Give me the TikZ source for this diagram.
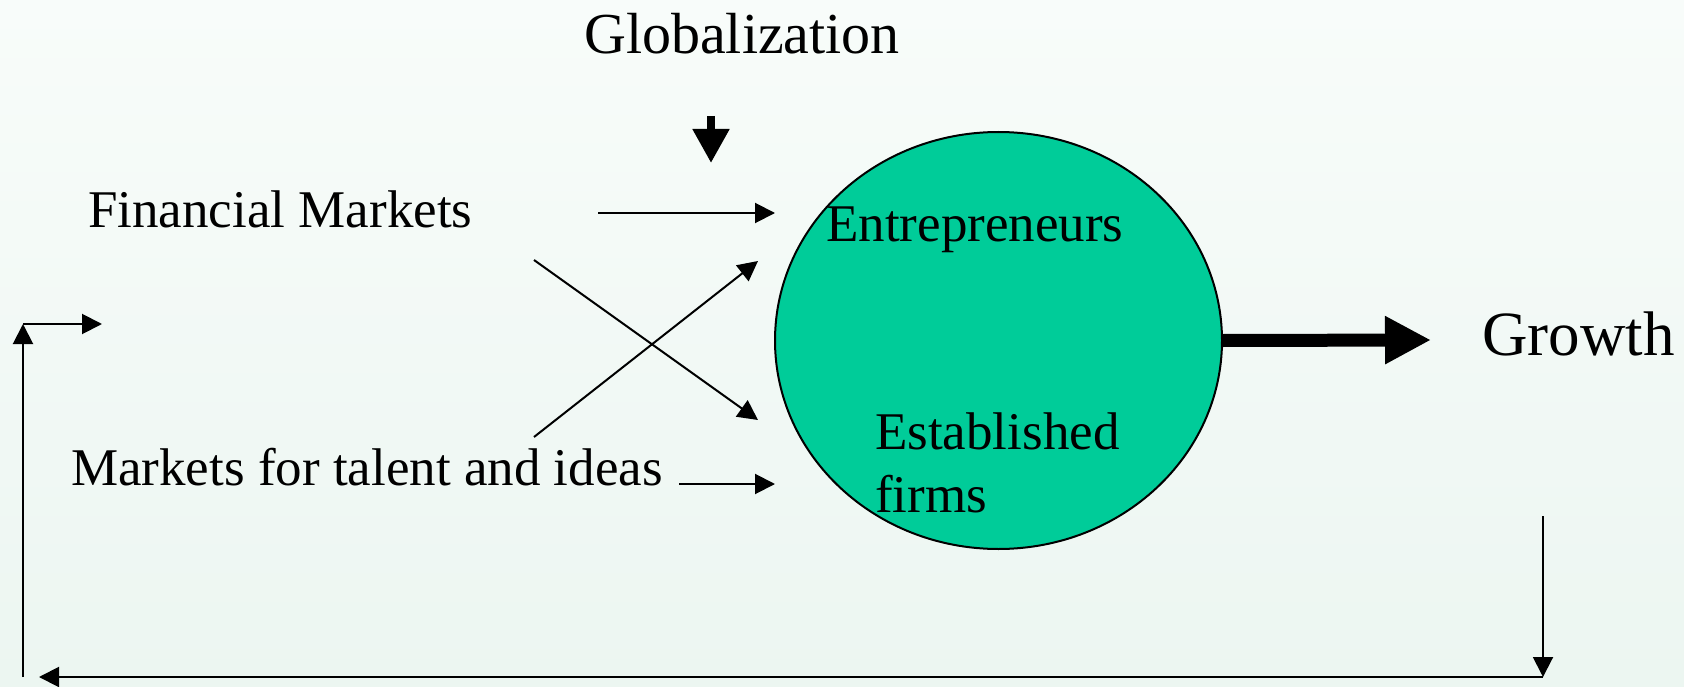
\documentclass[tikz,border=0pt]{standalone}
\usepackage{fontspec}
\setmainfont{Liberation Serif}
\usetikzlibrary{arrows.meta}
\usetikzlibrary{shapes.geometric}

\definecolor{bgtop}{RGB}{248,252,250}
\definecolor{bgbottom}{RGB}{236,246,241}
\definecolor{firmgreen}{RGB}{0,204,153}

\begin{document}
\begin{tikzpicture}[x=1pt, y=-1pt]
    \tikzstyle{txt}=[inner sep=0pt, anchor=base west, font=\fontsize{53}{63}\selectfont]
    \tikzstyle{link}=[line width=2pt, -{Triangle[length=20pt, width=20pt]}]

    % background
    \shade[top color=bgtop, bottom color=bgbottom] (0, 0) rectangle (1684, 687);
    \useasboundingbox (0, 0) rectangle (1684, 687);

    % the firm sector
    \node[draw, line width=2pt, fill=firmgreen, ellipse, inner sep=0pt,
          minimum width=447pt, minimum height=417pt] (firms) at (998.5, 340.5) {};
    \node[txt] (entr) at (826, 241) {Entrepreneurs};
    \node[txt] (est) at (875, 449) {Established};
    \node[txt] (estb) at (875, 512) {firms};

    \node[txt, font=\fontsize{58}{68}\selectfont] (glob) at (584, 54) {Globalization};
    \node[txt] (fin) at (88, 228) {Financial Markets};
    \node[txt] (tal) at (71, 485) {Markets for talent and ideas};
    \node[txt, font=\fontsize{63}{74}\selectfont] (growth) at (1482, 355) {Growth};

    % arrow ends
    \coordinate (g1) at (711, 116);
    \coordinate (g2) at (711, 163);
    \coordinate (f1) at (598, 213);
    \coordinate (f2) at (775, 213);
    \coordinate (f3) at (534, 260);
    \coordinate (f4) at (758, 420);
    \coordinate (t1) at (534, 437);
    \coordinate (t2) at (758, 261);
    \coordinate (t3) at (679, 484);
    \coordinate (t4) at (775, 484);
    \coordinate (gr) at (1431, 340);

    % feedback loop
    \coordinate (b1) at (1543, 516);
    \coordinate (b2) at (1543, 677);
    \coordinate (b3) at (39, 677);
    \coordinate (l1) at (23, 677);
    \coordinate (l2) at (23, 324);
    \coordinate (l3) at (102, 324);

    \draw[line width=8pt, -{Triangle[length=34pt, width=35pt]}] (g1) -- (g2);
    \draw[link] (f1) -- (f2);
    \draw[link] (f3) -- (f4);
    \draw[link] (t1) -- (t2);
    \draw[link] (t3) -- (t4);
    \draw[line width=13pt, -{Triangle[length=46pt, width=45pt]}] (firms.east) -- (gr);

    \draw[link] (b1) -- (b2);
    \draw[link] (b2) -- (b3);
    \draw[link] (l1) -- (l2);
    \draw[link] (l2) -- (l3);
\end{tikzpicture}
\end{document}
